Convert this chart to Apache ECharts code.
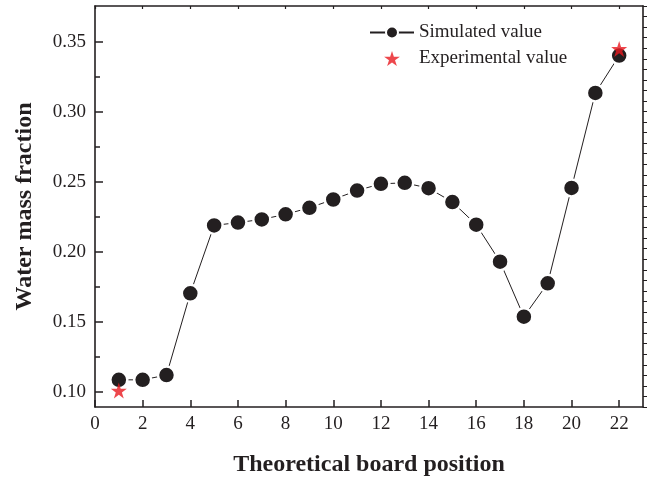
<!DOCTYPE html>
<html>
<head>
<meta charset="utf-8">
<script src="https://cdn.jsdelivr.net/npm/echarts@6/dist/echarts.min.js"></script>
<style>
html, body { margin: 0; padding: 0; background: #ffffff; }
#chart { width: 647px; height: 482px; }
</style>
</head>
<body>
<div id="chart"></div>
<script>
// Theoretical board positions and simulated water mass fraction
const positions = [1, 2, 3, 4, 5, 6, 7, 8, 9, 10, 11, 12, 13, 14, 15, 16, 17, 18, 19, 20, 21, 22];
const simulated = [0.1087, 0.1087, 0.1121, 0.1705, 0.2190, 0.2210, 0.2233, 0.2269, 0.2316, 0.2375, 0.2439,
                   0.2487, 0.2494, 0.2456, 0.2357, 0.2195, 0.1931, 0.1538, 0.1776, 0.2458, 0.3136, 0.3403];

// Measured points
const expPositions = [1, 22];
const experimental = [0.1010, 0.3450];

// Tick labels
const xTicks = [0, 2, 4, 6, 8, 10, 12, 14, 16, 18, 20, 22];
const yTicks = [0.10, 0.15, 0.20, 0.25, 0.30, 0.35];
const yMinorTicks = [0.125, 0.175, 0.225, 0.275, 0.325];

const X_MIN = 0, X_MAX = 23;
const Y_MIN = 0.0893, Y_MAX = 0.3757;

// fine ticks along the right frame edge
const rightTicks = [];
for (let i = 0; i <= 38; i++) rightTicks.push(Y_MIN + (Y_MAX - Y_MIN) * i / 38);

const INK = '#231f20';
const STAR_RED = '#e8191f';
const FONT = '"Liberation Serif", "Times New Roman", serif';

const chart = echarts.init(document.getElementById('chart'), null, { renderer: 'canvas' });

const frameLine = { show: true, lineStyle: { color: INK, width: 1.6 } };

chart.setOption({
  animation: false,
  backgroundColor: '#ffffff',
  textStyle: { fontFamily: FONT, color: INK },
  grid: { left: 95, right: 4, top: 6, bottom: 73, containLabel: false },
  legend: {
    orient: 'vertical',
    left: 369,
    top: 23,
    padding: 0,
    itemWidth: 44,
    itemHeight: 15,
    itemGap: 7,
    textStyle: { fontFamily: FONT, fontSize: 19, color: INK },
    data: ['Simulated value', 'Experimental value']
  },
  xAxis: [
    {
      type: 'value', position: 'bottom', min: X_MIN, max: X_MAX,
      name: 'Theoretical board position', nameLocation: 'middle', nameGap: 46,
      nameTextStyle: { fontFamily: FONT, fontSize: 24, fontWeight: 'bold', color: INK },
      axisLine: frameLine,
      axisTick: { show: true, inside: true, length: 7, customValues: xTicks, lineStyle: { color: INK, width: 1.5 } },
      axisLabel: { show: true, customValues: xTicks, margin: 8, fontFamily: FONT, fontSize: 19, color: INK },
      splitLine: { show: false }
    },
    {
      type: 'value', position: 'top', min: X_MIN, max: X_MAX,
      axisLine: frameLine,
      axisTick: { show: true, inside: true, length: 3, customValues: xTicks, lineStyle: { color: INK, width: 1.2 } },
      axisLabel: { show: false },
      splitLine: { show: false }
    }
  ],
  yAxis: [
    {
      type: 'value', position: 'left', min: Y_MIN, max: Y_MAX,
      name: 'Water mass fraction', nameLocation: 'middle', nameGap: 58, nameRotate: 90,
      nameTextStyle: { fontFamily: FONT, fontSize: 24, fontWeight: 'bold', color: INK },
      axisLine: frameLine,
      axisTick: { show: true, inside: true, length: 8, customValues: yTicks, lineStyle: { color: INK, width: 1.5 } },
      axisLabel: { show: true, customValues: yTicks, margin: 9, fontFamily: FONT, fontSize: 19, color: INK,
                   formatter: v => v.toFixed(2) },
      splitLine: { show: false }
    },
    {
      type: 'value', position: 'left', min: Y_MIN, max: Y_MAX,
      axisLine: { show: false },
      axisTick: { show: true, inside: true, length: 5, customValues: yMinorTicks, lineStyle: { color: INK, width: 1.5 } },
      axisLabel: { show: false },
      splitLine: { show: false }
    },
    {
      type: 'value', position: 'right', min: Y_MIN, max: Y_MAX,
      axisLine: frameLine,
      axisTick: { show: true, inside: false, length: 4, customValues: rightTicks, lineStyle: { color: INK, width: 1 } },
      axisLabel: { show: false },
      splitLine: { show: false }
    }
  ],
  series: [
    {
      name: 'Simulated value',
      type: 'line',
      xAxisIndex: 0, yAxisIndex: 0,
      data: positions.map((p, i) => [p, simulated[i]]),
      symbol: 'circle',
      symbolSize: 17,
      lineStyle: { color: INK, width: 1 },
      itemStyle: { color: INK, borderColor: '#ffffff', borderWidth: 2.5 },
      z: 2
    },
    {
      name: 'Experimental value',
      type: 'scatter',
      xAxisIndex: 0, yAxisIndex: 0,
      data: expPositions.map((p, i) => [p, experimental[i]]),
      symbol: 'path://M50,0 L61.8,36.2 L100,36.2 L69.1,58.8 L80.9,95.1 L50,72.6 L19.1,95.1 L30.9,58.8 L0,36.2 L38.2,36.2 Z',
      symbolSize: 16,
      itemStyle: { color: STAR_RED },
      z: 3
    }
  ]
});
</script>
</body>
</html>
